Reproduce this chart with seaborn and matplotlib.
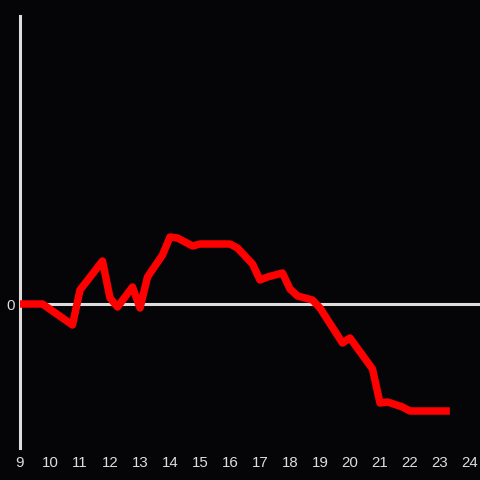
import pandas as pd
import matplotlib
matplotlib.use("Agg")
import matplotlib.pyplot as plt
import seaborn as sns

# hour of day and relative value (arbitrary units, 0 = baseline)
hours = [9.0, 9.75, 10.75, 11.0, 11.75, 12.0, 12.25, 12.75, 13.0, 13.25,
         13.75, 14.0, 14.25, 14.75, 15.0, 16.0, 16.25, 16.75, 17.0, 17.25,
         17.75, 18.0, 18.25, 18.75, 19.0, 19.75, 20.0, 20.75, 21.0, 21.25,
         21.75, 22.0, 23.33]
values = [0, 0, -21, 14, 43, 6, -3, 17, -4, 27,
          49, 67, 66, 58, 60, 60, 56, 40, 24, 27,
          31, 15, 8, 4, -4, -39, -34, -65, -99, -98,
          -103, -107, -107]
xticks = list(range(9, 25))

bg = "#050407"
fg = "#dddddd"

sns.set_style("dark")
plt.rcParams["font.family"] = ["Liberation Sans", "DejaVu Sans"]

df = pd.DataFrame({"hour": hours, "value": values})

fig = plt.figure(figsize=(4.8, 4.8), dpi=100, facecolor=bg)
ax = fig.add_axes([20 / 480, 32 / 480, 460 / 480, 432 / 480])
ax.set_facecolor(bg)

ax.axhline(0, color=fg, lw=2.2, zorder=1)
sns.lineplot(data=df, x="hour", y="value", color="#ff0000", lw=5.4,
             ax=ax, zorder=3, solid_capstyle="butt")

ax.set_xlim(9, 9 + 460 / 30)
ax.set_ylim(-144, 288)
ax.set_xticks(xticks)
ax.set_yticks([0])
ax.set_xlabel("")
ax.set_ylabel("")
ax.grid(False)
ax.tick_params(colors=fg, labelsize=10.8, length=0, pad=6)
ax.tick_params(axis="y", pad=4)

for side in ["top", "right", "bottom"]:
    ax.spines[side].set_visible(False)
ax.spines["left"].set_color(fg)
ax.spines["left"].set_linewidth(2.2)

fig.savefig("out.png", dpi=100, facecolor=bg)
